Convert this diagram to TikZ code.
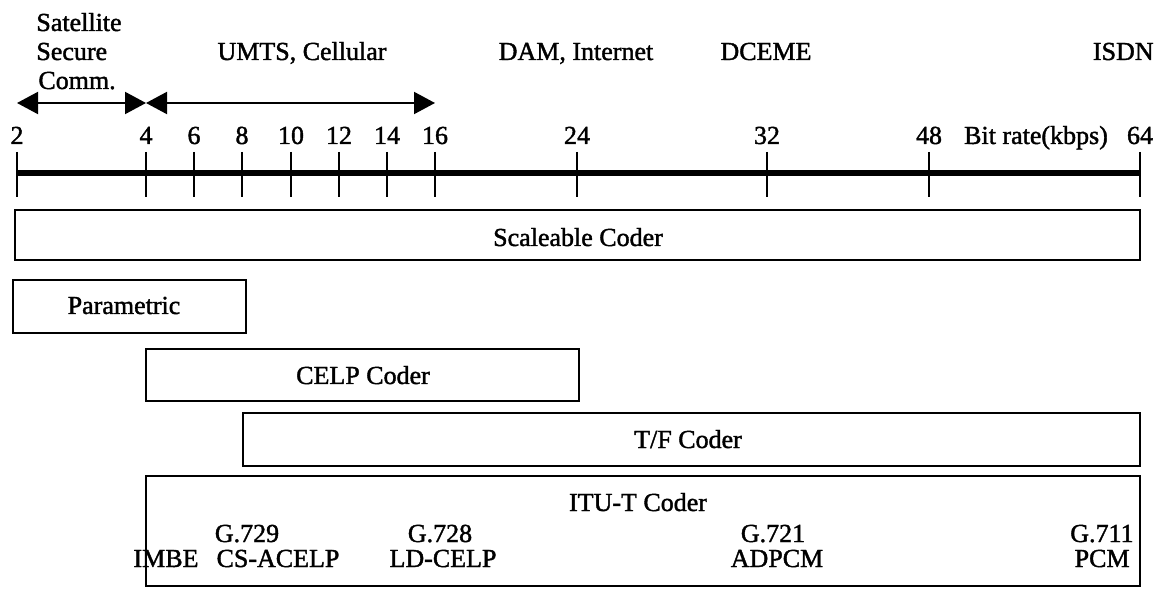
\documentclass[tikz,border=0pt]{standalone}
\usepackage{fontspec}
\setmainfont{Liberation Serif}
\newfontfamily\scanfont{Liberation Serif}[FakeBold=1.5]
\usetikzlibrary{arrows.meta}
\begin{document}
\begin{tikzpicture}[x=0.5pt,y=-0.5pt,
  lbl/.style={font=\scanfont\fontsize{13}{14}\selectfont, inner sep=0pt, anchor=base},
  box/.style={draw, line width=1pt},
  tickline/.style={line width=1pt},
  axisline/.style={line width=2.6pt},
  rng/.style={line width=1pt, {Triangle[length=10.5pt,width=11pt]}-{Triangle[length=10.5pt,width=11pt]}}
]
\useasboundingbox (0,0) rectangle (1168,593);
% application labels
\node[lbl, anchor=base west] (sat) at (36,31) {Satellite};
\node[lbl, anchor=base west] (sec) at (36,60) {Secure};
\node[lbl, anchor=base west] (com) at (38,89) {Comm.};
\node[lbl] (umts) at (302,60) {UMTS, Cellular};
\node[lbl] (dam) at (576,60) {DAM, Internet};
\node[lbl] (dceme) at (766,60) {DCEME};
\node[lbl, anchor=base east] (isdn) at (1154,60) {ISDN};
% range arrows
\coordinate (a2) at (17,103);
\coordinate (a4) at (146,103);
\coordinate (a16) at (435,103);
\draw[rng] (a2) -- (a4);
\draw[rng] (a4) -- (a16);
% axis
\coordinate (t2) at (17,173);
\coordinate (t64) at (1140,173);
\draw[axisline] (t2) -- (t64);
\foreach \v/\x in {2/17,4/146,6/194,8/242,10/291,12/339,14/387,16/435,24/577,32/767,48/929,64/1140}{
  \draw[tickline] (\x,152) -- (\x,197);
  \node[lbl] (n\v) at (\x,144) {\v};
}
\node[lbl] (bitrate) at (1036,144) {Bit rate(kbps)};
% coder boxes
\draw[box] (15,210) rectangle (1140,260);
\node[lbl] (scal) at (578,246) {Scaleable Coder};
\draw[box] (13,280) rectangle (246,333);
\node[lbl] (param) at (124,314) {Parametric};
\draw[box] (146,349) rectangle (579,401);
\node[lbl] (celp) at (363,384) {CELP Coder};
\draw[box] (243,413) rectangle (1140,466);
\node[lbl] (tf) at (688,448) {T/F Coder};
\draw[box] (146,476) rectangle (1140,586);
\node[lbl] (itu) at (638,511) {ITU-T Coder};
\node[lbl] (g729) at (247,542) {G.729};
\node[lbl] (imbe) at (166,567) {IMBE};
\node[lbl] (csacelp) at (278,567) {CS-ACELP};
\node[lbl] (g728) at (440,542) {G.728};
\node[lbl] (ldcelp) at (443,567) {LD-CELP};
\node[lbl] (g721) at (773,542) {G.721};
\node[lbl] (adpcm) at (777,567) {ADPCM};
\node[lbl, anchor=base east] (g711) at (1134,542) {G.711};
\node[lbl, anchor=base east] (pcm) at (1130,567) {PCM};
\end{tikzpicture}
\end{document}
